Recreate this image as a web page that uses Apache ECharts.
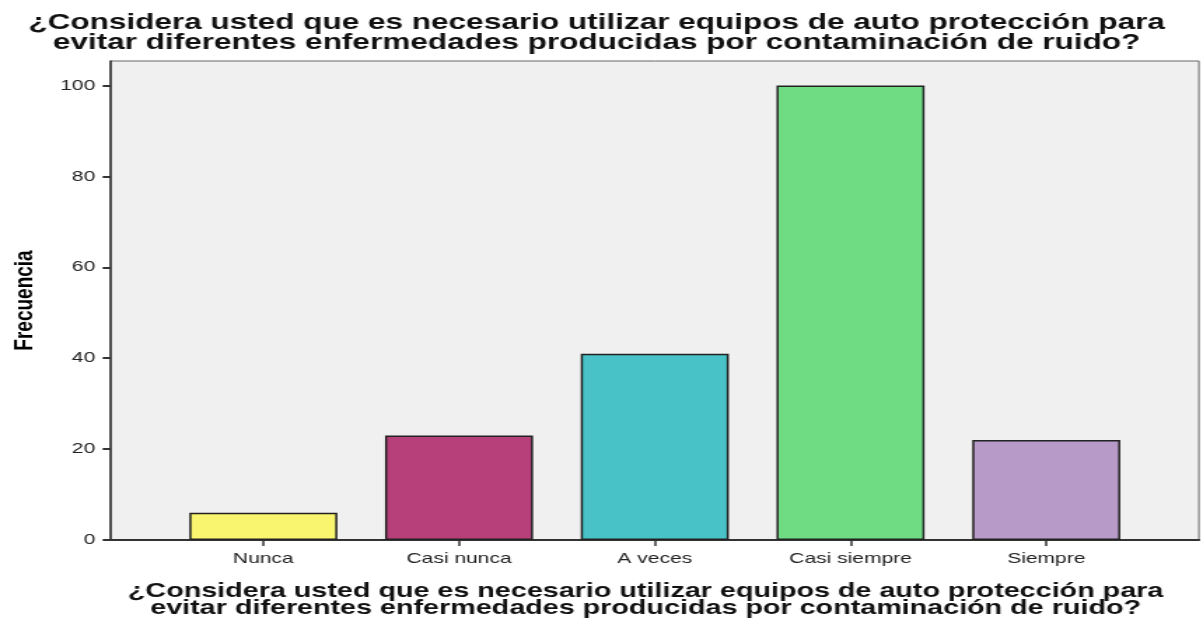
<!DOCTYPE html>
<html><head><meta charset="utf-8">
<script src="https://cdn.jsdelivr.net/npm/echarts@6/dist/echarts.min.js"></script>
<style>
html,body{margin:0;padding:0;background:#fff;overflow:hidden}
#wrap{width:1203px;height:619px;overflow:hidden}
#c{width:859px;height:619px;transform:scaleX(1.40047);transform-origin:0 0}
</style>
</head><body><div id="wrap"><div id="c"></div></div>
<script>
const categories = ['Nunca', 'Casi nunca', 'A veces', 'Casi siempre', 'Siempre'];
const frecuencia = [6, 23, 41, 100, 22];
const barColors = ['#f9f56f', '#b8407a', '#48c2c7', '#6fdc83', '#b89ac9'];
const yTicks = [0, 20, 40, 60, 80, 100];
const titleText = '¿Considera usted que es necesario utilizar equipos de auto protección para\nevitar diferentes enfermedades producidas por contaminación de ruido?';

const chart = echarts.init(document.getElementById('c'), null, {renderer: 'canvas'});
chart.setOption({
  animation: false,
  backgroundColor: '#ffffff',
  title: [{
    text: titleText,
    left: 421, top: 8, textAlign: 'center',
    textStyle: {fontFamily: 'Liberation Sans', fontWeight: 'bold', fontSize: 22.5, lineHeight: 20, color: '#111'}
  }, {
    text: titleText,
    left: 456, top: 578, textAlign: 'center',
    textStyle: {fontFamily: 'Liberation Sans', fontWeight: 'bold', fontSize: 20.5, lineHeight: 17, color: '#111'}
  }],
  grid: {left: 76.4, right: 2.9, top: 61, bottom: 79, show: true, backgroundColor: '#f0f0f0', borderColor: '#666', borderWidth: 1},
  xAxis: {
    type: 'value', min: -0.78, max: 4.78,
    splitLine: {show: false},
    axisLine: {show: true, onZero: false, lineStyle: {color: '#333', width: 2}},
    axisTick: {show: true, customValues: [0, 1, 2, 3, 4], length: 6, lineStyle: {color: '#333', width: 1.5}},
    axisLabel: {customValues: [0, 1, 2, 3, 4], formatter: v => categories[Math.round(v)] || '', fontFamily: 'Liberation Sans', fontSize: 15, color: '#222', margin: 11}
  },
  yAxis: {
    type: 'value', min: 0, max: 105.4,
    name: 'Frecuencia', nameLocation: 'middle', nameGap: 52, nameRotate: 90,
    nameTextStyle: {fontFamily: 'Liberation Sans', fontWeight: 'bold', fontSize: 19, color: '#000'},
    splitLine: {show: false},
    axisLine: {show: true, onZero: false, lineStyle: {color: '#333', width: 1.5}},
    axisTick: {show: true, customValues: yTicks, length: 5.7, lineStyle: {color: '#333', width: 2}},
    axisLabel: {customValues: yTicks, fontFamily: 'Liberation Sans', fontSize: 15, color: '#222', margin: 11}
  },
  series: [{
    type: 'bar',
    barWidth: 105.7,
    data: frecuencia.map((v, i) => ({value: [i, v], itemStyle: {color: barColors[i]}})),
    itemStyle: {borderColor: '#222', borderWidth: 1.5}
  }]
});
</script></body></html>
